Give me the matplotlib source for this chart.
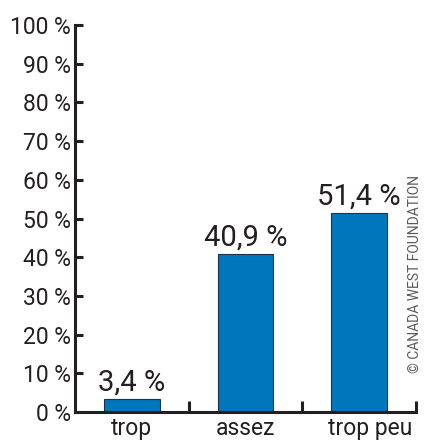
import matplotlib.pyplot as plt
import matplotlib.transforms as mtransforms
import numpy as np

categories = ["trop", "assez", "trop peu"]
values = [3.4, 40.9, 51.4]
value_labels = ["3,4 %", "40,9 %", "51,4 %"]
yticks = list(range(0, 101, 10))

plt.rcParams['font.family'] = ['Roboto', 'DejaVu Sans']
dark = "#231f20"

fig = plt.figure(figsize=(4.28, 4.41), dpi=100)
ax = fig.add_axes([0.175, 0.066, 0.797, 0.877])

x = np.arange(len(categories)) + 0.5
ax.bar(x, values, width=0.49, color="#0077bd", edgecolor="#1d3344", linewidth=0.8, zorder=2)
for xi, v, lab in zip(x, values, value_labels):
    ax.text(xi, v + 0.6, lab, ha="center", va="bottom", fontsize=21, color=dark)

ax.set_xlim(0, 3)
ax.set_ylim(0, 100)
ax.set_yticks(yticks)
ax.set_yticklabels([f"{t} %" for t in yticks], fontsize=16.5, color=dark)
ax.set_xticks([1, 2, 3])
ax.set_xticklabels([])
ax.set_xticks(x, minor=True)
ax.set_xticklabels(categories, minor=True, fontsize=16.5, color=dark)
ax.tick_params(axis="x", which="minor", length=0, pad=4)
ax.tick_params(axis="x", which="major", direction="in", length=8, width=2.2, color=dark)
ax.tick_params(axis="y", direction="in", length=6, width=2.2, color=dark, pad=3)

# last label sits a bit right of its bar in the original
last = ax.get_xticklabels(minor=True)[-1]
last.set_transform(last.get_transform() + mtransforms.ScaledTranslation(8 / 72, 0, fig.dpi_scale_trans))

for s in ["top", "right"]:
    ax.spines[s].set_visible(False)
for s in ["left", "bottom"]:
    ax.spines[s].set_linewidth(2.2)
    ax.spines[s].set_color(dark)

fig.text(0.970, 0.379, "© CANADA WEST FOUNDATION", rotation=90, ha="center", va="center",
         fontsize=10, color="#5a5a5a")

fig.savefig("out.png", dpi=100)
